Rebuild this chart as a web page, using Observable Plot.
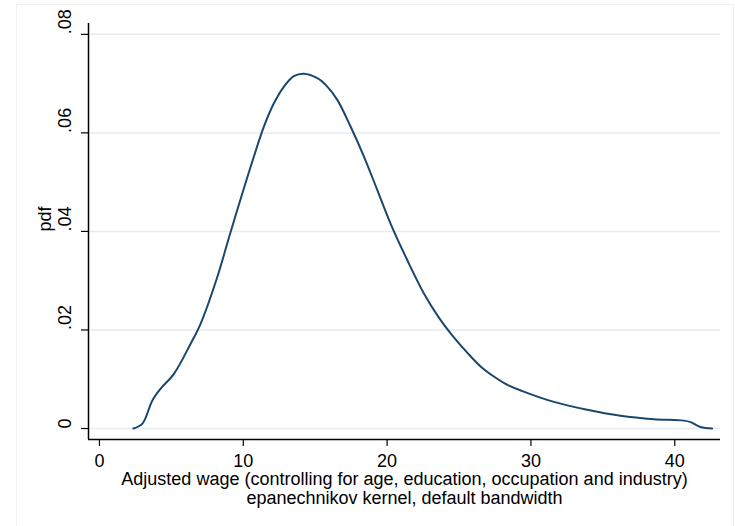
<!DOCTYPE html>
<html>
<head>
<meta charset="utf-8">
<script src="https://cdn.jsdelivr.net/npm/d3@7"></script>
<script src="https://cdn.jsdelivr.net/npm/@observablehq/plot@0.6"></script>
<style>
  html, body { margin: 0; padding: 0; background: #fff; }
  #wrap { position: relative; width: 735px; height: 526px; }
  #border { position: absolute; left: 16px; top: 4px; width: 716px; height: 530px; border: 1px solid #f0f0f0; pointer-events: none; }
</style>
</head>
<body>
<div id="wrap"><div id="chart"></div><div id="border"></div></div>
<script>
// Kernel density estimate
const wage = [2.36, 2.99, 3.68, 4.26, 5.18, 6.34, 7.04, 8.2, 9.12, 10.05, 10.74, 11.44, 12.13, 12.83, 13.52, 14.22, 15.15, 15.84, 16.54, 17.46, 18.39, 19.32, 20.24, 21.4, 22.56, 23.6, 24.5, 25.6, 26.5, 27.5, 28.4, 29.4, 31.6, 33.91, 36.23, 38.54, 40.63, 41.1, 41.8, 42.6];
const pdf  = [0, 0.001, 0.0057, 0.0081, 0.0111, 0.0172, 0.0213, 0.0308, 0.0399, 0.0488, 0.0552, 0.0613, 0.066, 0.0694, 0.0715, 0.072, 0.0711, 0.0694, 0.0667, 0.0613, 0.0552, 0.0484, 0.0416, 0.0342, 0.0274, 0.0225, 0.019, 0.0153, 0.0126, 0.0104, 0.0088, 0.0076, 0.0054, 0.0038, 0.0026, 0.0019, 0.0016, 0.0013, 0.0003, 0];

const xTicks = [0, 10, 20, 30, 40];
const yTicks = [0, 0.02, 0.04, 0.06, 0.08];
const yTickLabels = ["0", ".02", ".04", ".06", ".08"];
const yTitle = "pdf";
const xTitle1 = "Adjusted wage (controlling for age, education, occupation and industry)";
const xTitle2 = "epanechnikov kernel, default bandwidth";

const xDomain = [-0.76, 43.18];
const yDomain = [-0.00223, 0.0822];

const data = wage.map((w, i) => ({wage: w, pdf: pdf[i]}));
const font = "'Liberation Sans', Arial, sans-serif";

const chart = Plot.plot({
  width: 735,
  height: 526,
  marginLeft: 88,
  marginRight: 15,
  marginTop: 23,
  marginBottom: 87,
  style: {fontFamily: font, fontSize: "18px", color: "#000", background: "transparent"},
  x: {domain: xDomain},
  y: {domain: yDomain},
  marks: [
    Plot.gridY(yTicks, {stroke: "#e6ebee", strokeOpacity: 1, strokeWidth: 1.5}),
    Plot.ruleX([xDomain[0]], {stroke: "#000", strokeWidth: 1.5}),
    Plot.ruleY([yDomain[0]], {stroke: "#000", strokeWidth: 1.5}),
    Plot.axisY(yTicks, {tickSize: 7, tickFormat: () => "", label: null, stroke: "#000", strokeWidth: 1.2}),
    Plot.text(yTicks, {y: d => d, text: (d, i) => yTickLabels[i], frameAnchor: "left", dx: -23, rotate: -90, fontSize: 18, fill: "#000"}),
    Plot.text([yTitle], {text: d => d, frameAnchor: "left", dx: -43, rotate: -90, fontSize: 18, fill: "#000"}),
    Plot.axisX(xTicks, {tickSize: 7, tickPadding: 8, tickFormat: d => String(d), label: null, fontSize: 18, stroke: "#000", strokeWidth: 1.2, fill: "#000"}),
    Plot.text([xTitle1], {text: d => d, frameAnchor: "bottom", dy: 40, lineAnchor: "middle", fontSize: 18, fill: "#000"}),
    Plot.text([xTitle2], {text: d => d, frameAnchor: "bottom", dy: 59, lineAnchor: "middle", fontSize: 18, fill: "#000"}),
    Plot.line(data, {x: "wage", y: "pdf", stroke: "#1a476f", strokeWidth: 2, curve: "catmull-rom"})
  ]
});
document.getElementById("chart").appendChild(chart);
</script>
</body>
</html>
